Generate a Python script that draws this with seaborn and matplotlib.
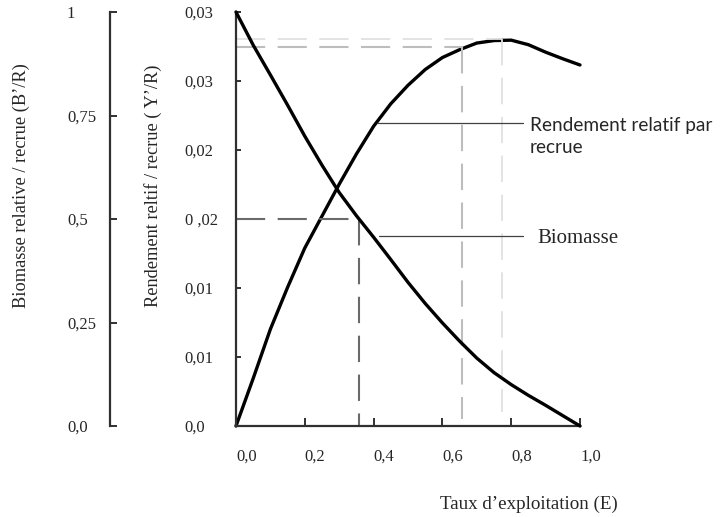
import matplotlib
matplotlib.use("Agg")
import matplotlib.pyplot as plt
import seaborn as sns
import pandas as pd

# ---- data ----
E = [0.0, 0.05, 0.1, 0.15, 0.2, 0.25, 0.3, 0.35, 0.4, 0.45, 0.5,
     0.55, 0.6, 0.65, 0.7, 0.75, 0.8, 0.85, 0.9, 0.95, 1.0]
biomasse = [1.0, 0.92, 0.848, 0.775, 0.70, 0.63, 0.564, 0.508, 0.456, 0.402, 0.347,
            0.296, 0.249, 0.205, 0.164, 0.129, 0.100, 0.074, 0.050, 0.025, 0.0]
rendement = [0.0, 0.00345, 0.00702, 0.01005, 0.0129, 0.01521, 0.01752, 0.01971, 0.02172,
             0.02335, 0.02469, 0.02583, 0.0267, 0.02727, 0.02775, 0.02793, 0.02796,
             0.02763, 0.02709, 0.02661, 0.02616]

E_half = 0.358      # E where B'/R = 0.5
E_01 = 0.658        # E_0.1
E_max = 0.772       # E_max
Y_half = 0.015
Y_01 = 0.02749
Y_max = 0.02802

x_ticks = [0.0, 0.2, 0.4, 0.6, 0.8, 1.0]
x_labels = ["0,0", "0,2", "0,4", "0,6", "0,8", "1,0"]
y_ticks = [0.0, 0.005, 0.01, 0.015, 0.02, 0.025, 0.03]
y_labels = ["0,0", "0,01", "0,01", "0 ,02", "0,02", "0,03", "0,03"]
b_ticks = [0.0, 0.25, 0.5, 0.75, 1.0]
b_labels = ["0,0", "0,25", "0,5", "0,75", "1"]

df = pd.DataFrame({"E": E, "B": biomasse, "Y": rendement})

sns.set_theme(style="white")
plt.rcParams["font.family"] = ["Liberation Serif", "DejaVu Serif"]
plt.rcParams["lines.scale_dashes"] = False

W, H = 721, 517
fig = plt.figure(figsize=(W / 100, H / 100), dpi=100)
ax = fig.add_axes([236 / W, 1 - 426 / H, 344 / W, 414 / H])
ax2 = ax.twinx()

ax.set_xlim(0, 1)
ax.set_ylim(0, 0.03)
ax2.set_ylim(0, 1)

spine_col = "#303030"
for a in (ax, ax2):
    for s in a.spines.values():
        s.set_visible(False)
ax.spines["left"].set_visible(True)
ax.spines["bottom"].set_visible(True)
ax2.spines["left"].set_visible(True)
ax2.spines["left"].set_position(("axes", (110 - 236) / 344))
for s in (ax.spines["left"], ax.spines["bottom"], ax2.spines["left"]):
    s.set_color(spine_col)
    s.set_linewidth(1.6)

# curves
sns.lineplot(data=df, x="E", y="Y", ax=ax, color="black", linewidth=2.4, clip_on=False)
sns.lineplot(data=df, x="E", y="B", ax=ax2, color="black", linewidth=2.4, clip_on=False)

# dashed guides
ax.plot([0, E_half], [Y_half, Y_half], color="#6a6a6a", lw=1.5, dashes=(21, 9), clip_on=False)
ax.plot([E_half, E_half], [Y_half, 0], color="#6a6a6a", lw=1.5, dashes=(19, 9), clip_on=False)
ax.plot([0, E_01], [Y_01, Y_01], color="#bdbdbd", lw=1.5, dashes=(21, 9))
ax.plot([E_01, E_01], [Y_01, 0.0005], color="#bdbdbd", lw=1.5, dashes=(19, 9))
ax.plot([0, E_max], [Y_max, Y_max], color="#e0e0e0", lw=1.3, dashes=(21, 9))
ax.plot([E_max, E_max], [Y_max, 0.001], color="#e0e0e0", lw=1.3, dashes=(19, 9))

# annotations
ax.plot([0.413, 0.834], [0.02196, 0.02196], color="#404040", lw=0.9, clip_on=False)
ax.plot([0.416, 0.834], [0.01377, 0.01377], color="#404040", lw=0.9, clip_on=False)
ax.text(0.855, 0.02100, "Rendement relatif par\nrecrue", family=["Lato", "DejaVu Sans"],
        fontsize=13.7, va="center", ha="left", linespacing=1.36, clip_on=False)
ax.text(0.875, 0.01362, "Biomasse", fontsize=15, va="center", ha="left", clip_on=False)

# ticks
ax.set_xticks(x_ticks)
ax.set_xticklabels(x_labels, ha="left")
ax.set_yticks(y_ticks)
ax.set_yticklabels(y_labels, ha="left")
ax2.set_yticks(b_ticks)
ax2.set_yticklabels(b_labels, ha="left")
ax2.yaxis.set_ticks_position("left")
ax2.yaxis.set_label_position("left")

ax.tick_params(axis="x", direction="in", length=6, width=1.4, color=spine_col,
               pad=16, labelsize=12, bottom=True)
ax.tick_params(axis="y", direction="in", length=3.5, width=1.4, color=spine_col,
               pad=37, labelsize=12, left=True, right=False)
ax2.tick_params(axis="y", direction="in", length=5, width=1.4, color=spine_col,
                pad=31, labelsize=12, left=True, right=False)

# labels
ax.set_xlabel("Taux d\u2019exploitation (E)", fontsize=13.7)
ax.xaxis.set_label_coords((529 - 236) / 344, (426 - 504) / 414)
ax.xaxis.label.set_va("center")
ax.set_ylabel("Rendement reltif / recrue ( Y\u2019/R)", fontsize=13.2)
ax.yaxis.set_label_coords((153 - 236) / 344, (426 - 186) / 414)
ax.yaxis.label.set_va("center")
ax2.set_ylabel("Biomasse relative / recrue (B\u2019/R)", fontsize=13.2)
ax2.yaxis.set_label_coords((21 - 236) / 344, (426 - 186) / 414)
ax2.yaxis.label.set_va("center")

fig.savefig("out.png", dpi=100, facecolor="white")
